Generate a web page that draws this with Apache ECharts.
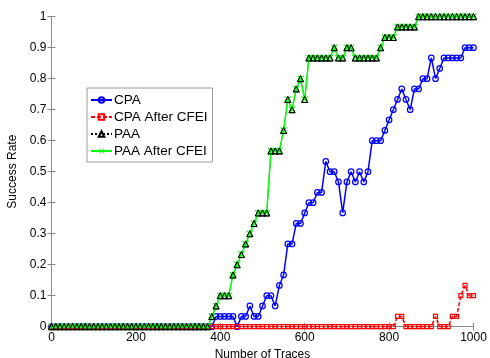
<!DOCTYPE html>
<html>
<head>
<meta charset="utf-8">
<script src="https://cdn.jsdelivr.net/npm/echarts@6/dist/echarts.min.js"></script>
<style>
html, body { margin: 0; padding: 0; background: #fff; }
#chart { width: 490px; height: 358px; }
</style>
</head>
<body>
<div id="chart"></div>
<script>
// number of traces (x positions of the samples)
var traces = [0, 10, 20, 30, 40, 50, 60, 70, 80, 90,
	100, 110, 120, 130, 140, 150, 160, 170, 180, 190,
	200, 210, 220, 230, 240, 250, 260, 270, 280, 290,
	300, 310, 320, 330, 340, 350, 360, 370, 380, 390,
	400, 410, 420, 430, 440, 450, 460, 470, 480, 490,
	500, 510, 520, 530, 540, 550, 560, 570, 580, 590,
	600, 610, 620, 630, 640, 650, 660, 670, 680, 690,
	700, 710, 720, 730, 740, 750, 760, 770, 780, 790,
	800, 810, 820, 830, 840, 850, 860, 870, 880, 890,
	900, 910, 920, 930, 940, 950, 960, 970, 980, 990, 1000];

var cpa = [0, 0, 0, 0, 0, 0, 0, 0, 0, 0,
	0, 0, 0, 0, 0, 0, 0, 0, 0, 0,
	0, 0, 0, 0, 0, 0, 0, 0, 0, 0,
	0, 0, 0, 0, 0, 0, 0, 0, 0, 0.033,
	0.033, 0.033, 0.033, 0.033, 0, 0.033, 0.033, 0.067, 0.033, 0.033,
	0.067, 0.1, 0.1, 0.067, 0.133, 0.167, 0.267, 0.267, 0.333, 0.333,
	0.367, 0.4, 0.4, 0.433, 0.433, 0.533, 0.5, 0.5, 0.467, 0.367,
	0.467, 0.5, 0.467, 0.5, 0.467, 0.5, 0.6, 0.6, 0.6, 0.633,
	0.667, 0.7, 0.733, 0.767, 0.733, 0.7, 0.767, 0.767, 0.8, 0.8,
	0.867, 0.8, 0.833, 0.867, 0.867, 0.867, 0.867, 0.867, 0.9, 0.9, 0.9];

var cpaCfei = [0, 0, 0, 0, 0, 0, 0, 0, 0, 0,
	0, 0, 0, 0, 0, 0, 0, 0, 0, 0,
	0, 0, 0, 0, 0, 0, 0, 0, 0, 0,
	0, 0, 0, 0, 0, 0, 0, 0, 0, 0,
	0, 0, 0, 0, 0, 0, 0, 0, 0, 0,
	0, 0, 0, 0, 0, 0, 0, 0, 0, 0,
	0, 0, 0, 0, 0, 0, 0, 0, 0, 0,
	0, 0, 0, 0, 0, 0, 0, 0, 0, 0,
	0, 0, 0.033, 0.033, 0, 0, 0, 0, 0, 0,
	0, 0.033, 0, 0, 0, 0.033, 0.033, 0.1, 0.133, 0.1, 0.1];

var paa = [0, 0, 0, 0, 0, 0, 0, 0, 0, 0,
	0, 0, 0, 0, 0, 0, 0, 0, 0, 0,
	0, 0, 0, 0, 0, 0, 0, 0, 0, 0,
	0, 0, 0, 0, 0, 0, 0, 0, 0.033, 0.067,
	0.1, 0.1, 0.1, 0.167, 0.2, 0.233, 0.267, 0.3, 0.333, 0.367,
	0.367, 0.367, 0.567, 0.567, 0.567, 0.633, 0.733, 0.7, 0.767, 0.8,
	0.733, 0.867, 0.867, 0.867, 0.867, 0.867, 0.867, 0.9, 0.867, 0.867,
	0.9, 0.9, 0.867, 0.867, 0.867, 0.867, 0.867, 0.867, 0.9, 0.933,
	0.933, 0.933, 0.967, 0.967, 0.967, 0.967, 0.967, 1, 1, 1,
	1, 1, 1, 1, 1, 1, 1, 1, 1, 1, 1];

// after CFEI the PAA curve is unchanged
var paaCfei = paa.slice();

var xTicks = [0, 200, 400, 600, 800, 1000];

var xMark = 'path://M0,1L1,0L5,4L9,0L10,1L6,5L10,9L9,10L5,6L1,10L0,9L4,5Z';

function pairs(ys) {
	var out = [];
	for (var i = 0; i < traces.length; i++) {
		out.push([traces[i], ys[i]]);
	}
	return out;
}

var axisGray = '#8a8a8a';
var fontFam = 'Liberation Sans, Arial, sans-serif';

var myChart = echarts.init(document.getElementById('chart'));
var option = {
	animation: false,
	backgroundColor: '#fff',
	textStyle: { fontFamily: fontFam },
	grid: { left: 51.5, right: 16.5, top: 16.7, bottom: 31.3, containLabel: false, outerBoundsMode: 'none' },
	legend: {
		orient: 'vertical',
		left: 87,
		top: 88,
		itemWidth: 21,
		itemHeight: 7,
		itemGap: 3,
		padding: [5, 5, 4, 3],
		backgroundColor: '#fff',
		borderColor: '#9a9a9a',
		borderWidth: 1,
		textStyle: { fontSize: 13.5, color: '#000', fontFamily: fontFam, padding: [0, 0, 0, -3] },
		data: ['CPA', 'CPA After CFEI', 'PAA', 'PAA After CFEI']
	},
	xAxis: [{
		type: 'value',
		min: 0,
		max: 1000,
		interval: 200,
		name: 'Number of Traces',
		nameLocation: 'middle',
		nameGap: 16,
		nameTextStyle: { fontSize: 12, color: '#000' },
		axisLine: { lineStyle: { color: axisGray } },
		axisTick: { inside: true, length: 4, lineStyle: { color: axisGray } },
		axisLabel: { fontSize: 12, color: '#000', margin: 5,
			formatter: function (v) { return xTicks.indexOf(v) >= 0 ? String(v) : ''; } },
		splitLine: { show: false }
	}, {
		type: 'value',
		position: 'top',
		min: 0,
		max: 1000,
		interval: 200,
		axisLine: { show: true, lineStyle: { color: axisGray } },
		axisTick: { inside: true, length: 4, lineStyle: { color: axisGray } },
		axisLabel: { show: false },
		splitLine: { show: false }
	}],
	yAxis: [{
		type: 'value',
		min: 0,
		max: 1,
		interval: 0.1,
		name: 'Success Rate',
		nameLocation: 'middle',
		nameGap: 28,
		nameTextStyle: { fontSize: 12, color: '#000' },
		axisLine: { show: true, lineStyle: { color: axisGray } },
		axisTick: { show: true, inside: true, length: 4, lineStyle: { color: axisGray } },
		axisLabel: { fontSize: 12, color: '#000', margin: 5 },
		splitLine: { show: false }
	}, {
		type: 'value',
		position: 'right',
		min: 0,
		max: 1,
		interval: 0.1,
		axisLine: { show: true, lineStyle: { color: axisGray } },
		axisTick: { show: true, inside: true, length: 4, lineStyle: { color: axisGray } },
		axisLabel: { show: false },
		splitLine: { show: false }
	}],
	series: [{
		name: 'CPA',
		type: 'line',
		data: pairs(cpa),
		symbol: 'circle',
		symbolSize: 5.5,
		z: 2,
		lineStyle: { color: '#0000ff', width: 1.5 },
		itemStyle: { color: 'rgba(255,255,255,0)', borderColor: '#0000ff', borderWidth: 1.2 }
	}, {
		name: 'CPA After CFEI',
		type: 'line',
		data: pairs(cpaCfei),
		symbol: 'rect',
		symbolSize: 4,
		z: 3,
		lineStyle: { color: '#ff0000', width: 1.5, type: [4, 2] },
		itemStyle: { color: 'rgba(255,255,255,0)', borderColor: '#ff0000', borderWidth: 1.2 }
	}, {
		name: 'PAA',
		type: 'line',
		data: pairs(paa),
		symbol: 'triangle',
		symbolSize: 6,
		z: 4,
		lineStyle: { color: '#000', width: 1, type: 'dotted' },
		itemStyle: { color: 'rgba(255,255,255,0)', borderColor: '#000', borderWidth: 1 }
	}, {
		name: 'PAA After CFEI',
		type: 'line',
		data: pairs(paaCfei),
		symbol: xMark,
		symbolSize: 7,
		z: 5,
		lineStyle: { color: '#00ff00', width: 1.5 },
		itemStyle: { color: '#00ff00' }
	}, {
		// triangles of PAA drawn again on top of the green curve
		name: 'paaMarks',
		type: 'line',
		data: pairs(paa),
		symbol: 'triangle',
		symbolSize: 6,
		z: 6,
		lineStyle: { opacity: 0 },
		itemStyle: { color: 'rgba(255,255,255,0)', borderColor: '#000', borderWidth: 1 }
	}]
};
myChart.setOption(option);
</script>
</body>
</html>
